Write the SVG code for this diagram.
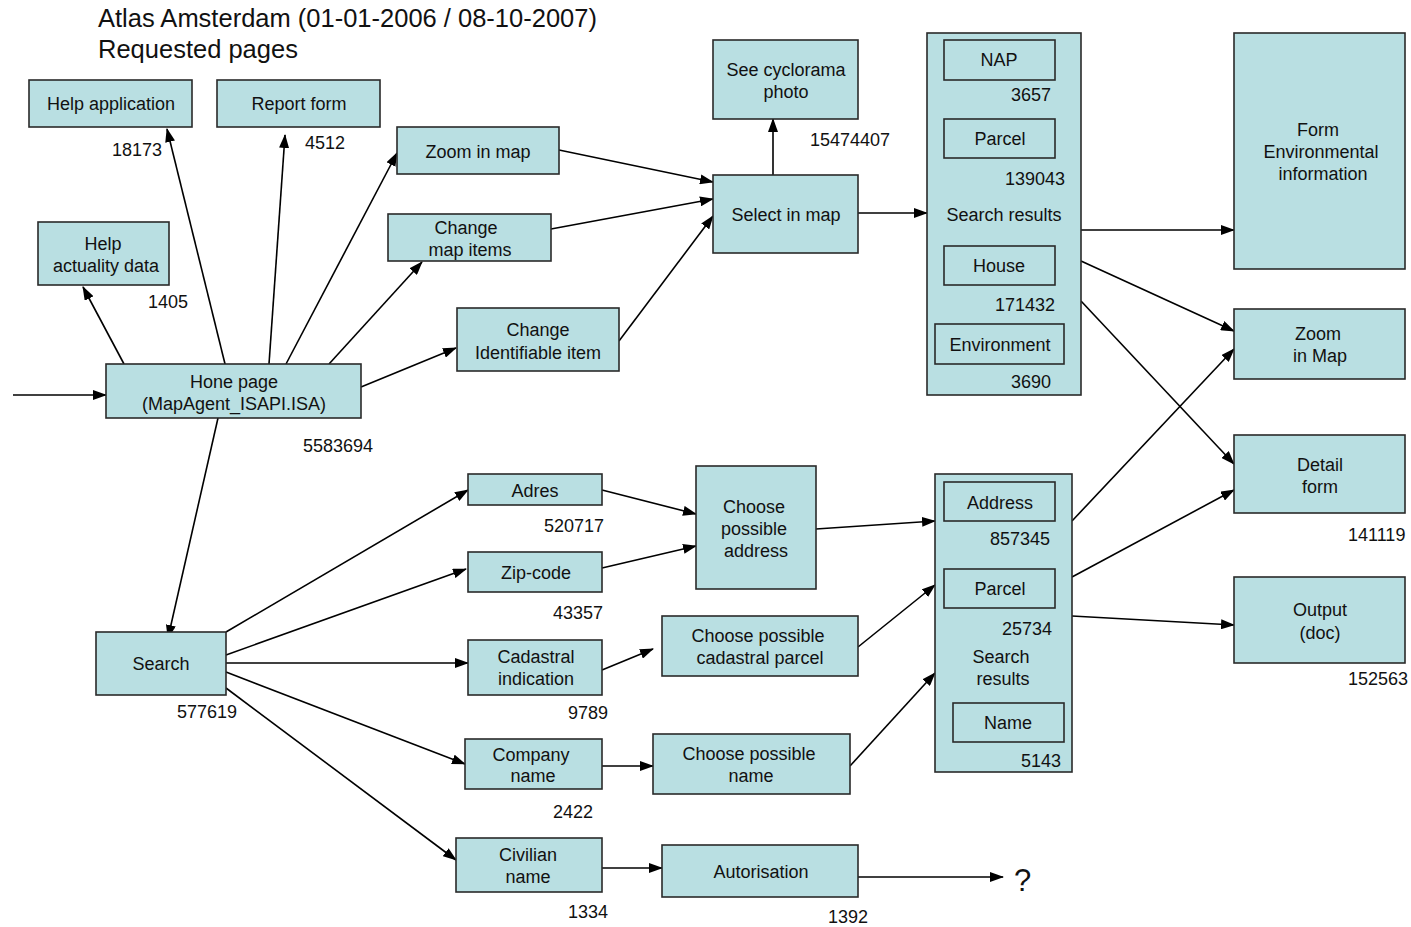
<svg xmlns="http://www.w3.org/2000/svg" width="1411" height="927" viewBox="0 0 1411 927">
  <style>
    .box { fill: #b9dfe2; stroke: #2a2a2a; stroke-width: 1.6; }
    .inner { fill: none; stroke: #2a2a2a; stroke-width: 1.6; }
    .t { font-family: "Liberation Sans", Arial, sans-serif; font-size: 18px; fill: #111; text-anchor: middle; }
    .n { font-family: "Liberation Sans", Arial, sans-serif; font-size: 18px; fill: #111; }
    .title { font-family: "Liberation Sans", Arial, sans-serif; font-size: 25.5px; fill: #111; }
    .c { stroke: #000; stroke-width: 1.6; fill: none; marker-end: url(#arrow); }
  </style>
  <defs>
    <marker id="arrow" markerUnits="userSpaceOnUse" markerWidth="14" markerHeight="10" refX="13" refY="5" orient="auto">
      <path d="M0,0 L14,5 L0,10 Z" fill="#000"/>
    </marker>
  </defs>

  <rect width="1411" height="927" fill="#fff"/>

  <!-- heading -->
  <text class="title" x="98" y="27">Atlas Amsterdam (01-01-2006 / 08-10-2007)</text>
  <text class="title" x="98" y="58">Requested pages</text>

  <!-- connectors -->
  <g id="connectors">
    <line class="c" x1="13" y1="395" x2="106" y2="395"/>
    <line class="c" x1="124" y1="364" x2="83" y2="287"/>
    <line class="c" x1="227" y1="372" x2="167" y2="129"/>
    <line class="c" x1="269" y1="364" x2="285" y2="135"/>
    <line class="c" x1="286" y1="364" x2="397" y2="153"/>
    <line class="c" x1="329" y1="364" x2="422" y2="262"/>
    <line class="c" x1="361" y1="387" x2="456" y2="348"/>
    <line class="c" x1="218" y1="418" x2="168" y2="638"/>
    <line class="c" x1="559" y1="150" x2="713" y2="182"/>
    <line class="c" x1="551" y1="229" x2="713" y2="199"/>
    <line class="c" x1="619" y1="341" x2="713" y2="216"/>
    <line class="c" x1="773" y1="175" x2="773" y2="119"/>
    <line class="c" x1="858" y1="213" x2="927" y2="213"/>
    <line class="c" x1="1081" y1="230" x2="1234" y2="230"/>
    <line class="c" x1="1081" y1="261" x2="1234" y2="331"/>
    <line class="c" x1="1081" y1="301" x2="1234" y2="464"/>
    <line class="c" x1="1072" y1="521" x2="1234" y2="349"/>
    <line class="c" x1="1072" y1="577" x2="1234" y2="490"/>
    <line class="c" x1="1072" y1="616" x2="1234" y2="625"/>
    <line class="c" x1="226" y1="632" x2="468" y2="490"/>
    <line class="c" x1="226" y1="655" x2="466" y2="569"/>
    <line class="c" x1="226" y1="663" x2="468" y2="663"/>
    <line class="c" x1="226" y1="672" x2="465" y2="764"/>
    <line class="c" x1="226" y1="688" x2="456" y2="860"/>
    <line class="c" x1="602" y1="490" x2="696" y2="514"/>
    <line class="c" x1="602" y1="568" x2="696" y2="546"/>
    <line class="c" x1="602" y1="670" x2="653" y2="649"/>
    <line class="c" x1="816" y1="529" x2="935" y2="521"/>
    <line class="c" x1="858" y1="647" x2="935" y2="585"/>
    <line class="c" x1="602" y1="766" x2="653" y2="766"/>
    <line class="c" x1="850" y1="766" x2="935" y2="673"/>
    <line class="c" x1="602" y1="868" x2="662" y2="868"/>
    <line class="c" x1="858" y1="877" x2="1003" y2="877"/>
  </g>

  <!-- nodes -->
  <g id="help-application">
    <rect class="box" x="29" y="80" width="163" height="47"/>
    <text class="t" x="111" y="110">Help application</text>
    <text class="n" x="112" y="156">18173</text>
  </g>
  <g id="report-form">
    <rect class="box" x="217" y="80" width="163" height="47"/>
    <text class="t" x="299" y="110">Report form</text>
    <text class="n" x="305" y="149">4512</text>
  </g>
  <g id="help-actuality">
    <rect class="box" x="38" y="222" width="131" height="63"/>
    <text class="t" x="103" y="250">Help</text>
    <text class="t" x="106" y="272">actuality data</text>
    <text class="n" x="148" y="308">1405</text>
  </g>
  <g id="zoom-in-map">
    <rect class="box" x="397" y="127" width="162" height="47"/>
    <text class="t" x="478" y="158">Zoom in map</text>
  </g>
  <g id="change-map-items">
    <rect class="box" x="388" y="214" width="163" height="47"/>
    <text class="t" x="466" y="234">Change</text>
    <text class="t" x="470" y="256">map items</text>
  </g>
  <g id="change-identifiable">
    <rect class="box" x="457" y="308" width="162" height="63"/>
    <text class="t" x="538" y="336">Change</text>
    <text class="t" x="538" y="359">Identifiable item</text>
  </g>
  <g id="home-page">
    <rect class="box" x="106" y="364" width="255" height="54"/>
    <text class="t" x="234" y="388">Hone page</text>
    <text class="t" x="234" y="410">(MapAgent_ISAPI.ISA)</text>
    <text class="n" x="303" y="452">5583694</text>
  </g>
  <g id="see-cyclorama">
    <rect class="box" x="713" y="40" width="145" height="79"/>
    <text class="t" x="786" y="76">See cyclorama</text>
    <text class="t" x="786" y="98">photo</text>
    <text class="n" x="810" y="146">15474407</text>
  </g>
  <g id="select-in-map">
    <rect class="box" x="713" y="175" width="145" height="78"/>
    <text class="t" x="786" y="221">Select in map</text>
  </g>
  <g id="search-results-map">
    <rect class="box" x="927" y="33" width="154" height="362"/>
    <rect class="inner" x="944" y="40" width="111" height="40"/>
    <text class="t" x="999" y="66">NAP</text>
    <text class="n" x="1011" y="101">3657</text>
    <rect class="inner" x="944" y="119" width="111" height="39"/>
    <text class="t" x="1000" y="145">Parcel</text>
    <text class="n" x="1005" y="185">139043</text>
    <text class="t" x="1004" y="221">Search results</text>
    <rect class="inner" x="944" y="246" width="111" height="39"/>
    <text class="t" x="999" y="272">House</text>
    <text class="n" x="995" y="311">171432</text>
    <rect class="inner" x="935" y="324" width="129" height="40"/>
    <text class="t" x="1000" y="351">Environment</text>
    <text class="n" x="1011" y="388">3690</text>
  </g>
  <g id="form-environmental">
    <rect class="box" x="1234" y="33" width="171" height="236"/>
    <text class="t" x="1318" y="136">Form</text>
    <text class="t" x="1321" y="158">Environmental</text>
    <text class="t" x="1323" y="180">information</text>
  </g>
  <g id="zoom-in-map-result">
    <rect class="box" x="1234" y="309" width="171" height="70"/>
    <text class="t" x="1318" y="340">Zoom</text>
    <text class="t" x="1320" y="362">in Map</text>
  </g>
  <g id="detail-form">
    <rect class="box" x="1234" y="435" width="171" height="78"/>
    <text class="t" x="1320" y="471">Detail</text>
    <text class="t" x="1320" y="493">form</text>
    <text class="n" x="1348" y="541">141119</text>
  </g>
  <g id="output-doc">
    <rect class="box" x="1234" y="577" width="171" height="86"/>
    <text class="t" x="1320" y="616">Output</text>
    <text class="t" x="1320" y="639">(doc)</text>
    <text class="n" x="1348" y="685">152563</text>
  </g>
  <g id="search">
    <rect class="box" x="96" y="632" width="130" height="63"/>
    <text class="t" x="161" y="670">Search</text>
    <text class="n" x="177" y="718">577619</text>
  </g>
  <g id="adres">
    <rect class="box" x="468" y="474" width="134" height="31"/>
    <text class="t" x="535" y="497">Adres</text>
    <text class="n" x="544" y="532">520717</text>
  </g>
  <g id="zip-code">
    <rect class="box" x="468" y="552" width="134" height="40"/>
    <text class="t" x="536" y="579">Zip-code</text>
    <text class="n" x="553" y="619">43357</text>
  </g>
  <g id="cadastral-indication">
    <rect class="box" x="468" y="640" width="134" height="55"/>
    <text class="t" x="536" y="663">Cadastral</text>
    <text class="t" x="536" y="685">indication</text>
    <text class="n" x="568" y="719">9789</text>
  </g>
  <g id="company-name">
    <rect class="box" x="465" y="739" width="137" height="50"/>
    <text class="t" x="531" y="761">Company</text>
    <text class="t" x="533" y="782">name</text>
    <text class="n" x="553" y="818">2422</text>
  </g>
  <g id="civilian-name">
    <rect class="box" x="456" y="838" width="146" height="54"/>
    <text class="t" x="528" y="861">Civilian</text>
    <text class="t" x="528" y="883">name</text>
    <text class="n" x="568" y="918">1334</text>
  </g>
  <g id="choose-address">
    <rect class="box" x="696" y="466" width="120" height="123"/>
    <text class="t" x="754" y="513">Choose</text>
    <text class="t" x="754" y="535">possible</text>
    <text class="t" x="756" y="557">address</text>
  </g>
  <g id="choose-cadastral">
    <rect class="box" x="662" y="616" width="196" height="60"/>
    <text class="t" x="758" y="642">Choose possible</text>
    <text class="t" x="760" y="664">cadastral parcel</text>
  </g>
  <g id="choose-name">
    <rect class="box" x="653" y="734" width="197" height="60"/>
    <text class="t" x="749" y="760">Choose possible</text>
    <text class="t" x="751" y="782">name</text>
  </g>
  <g id="autorisation">
    <rect class="box" x="662" y="845" width="196" height="52"/>
    <text class="t" x="761" y="878">Autorisation</text>
    <text class="n" x="828" y="923">1392</text>
  </g>
  <g id="search-results-address">
    <rect class="box" x="935" y="474" width="137" height="298"/>
    <rect class="inner" x="944" y="482" width="111" height="39"/>
    <text class="t" x="1000" y="509">Address</text>
    <text class="n" x="990" y="545">857345</text>
    <rect class="inner" x="944" y="569" width="111" height="39"/>
    <text class="t" x="1000" y="595">Parcel</text>
    <text class="n" x="1002" y="635">25734</text>
    <text class="t" x="1001" y="663">Search</text>
    <text class="t" x="1003" y="685">results</text>
    <rect class="inner" x="953" y="703" width="111" height="39"/>
    <text class="t" x="1008" y="729">Name</text>
    <text class="n" x="1021" y="767">5143</text>
  </g>
  <g id="unknown-target">
    <text class="n" x="1014" y="891" style="font-size:31px">?</text>
  </g>
</svg>
